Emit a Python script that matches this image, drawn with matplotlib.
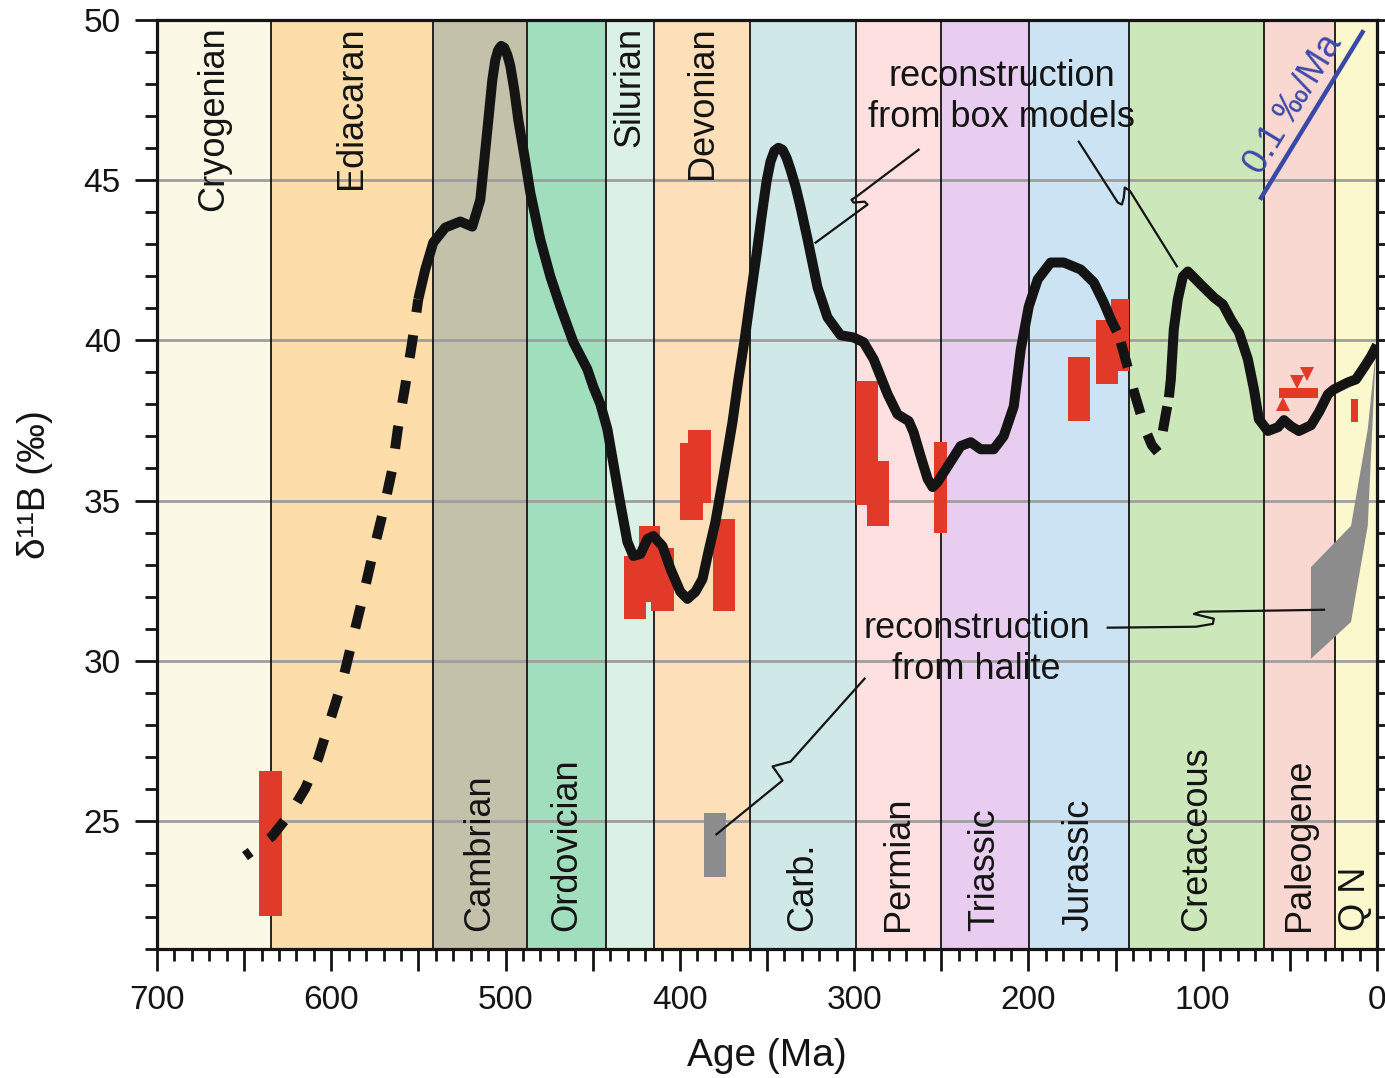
import numpy as np
import matplotlib.pyplot as plt

plt.rcParams['font.family'] = ['Liberation Sans', 'DejaVu Sans']

# geologic periods (Ma)
periods = ['Cryogenian', 'Ediacaran', 'Cambrian', 'Ordovician', 'Silurian', 'Devonian',
           'Carb.', 'Permian', 'Triassic', 'Jurassic', 'Cretaceous', 'Paleogene', 'Q N']
period_old = [720, 634.7, 541.7, 487.7, 442.3, 414.6, 359.9, 299.2, 250.4, 199.6, 142.2, 64.7, 24.1]
period_young = [634.7, 541.7, 487.7, 442.3, 414.6, 359.9, 299.2, 250.4, 199.6, 142.2, 64.7, 24.1, 0]
period_colors = ['#FBF9E6', '#FDDDAA', '#C3C1AA', '#A0DEBE', '#DCF1E6', '#FDE0BA',
                 '#D0E8E8', '#FDE0DF', '#E8CDF0', '#CBE3F2', '#CCE8BA', '#F8D8D0', '#FAF8CC']
label_top = [True, True, False, False, True, True, False, False, False, False, False, False, False]

# box model reconstruction, dashed Ediacaran part
edi_age = [649.5, 634.0, 623.6, 615.0, 607.5, 600.7, 593.2, 587.4, 581.7, 575.9, 570.2,
           565.0, 561.6, 557.6, 553.6, 550.1]
edi_d11b = [23.90, 24.52, 25.23, 26.01, 26.95, 28.13, 29.44, 30.75, 32.03, 33.40, 34.67,
            35.98, 37.32, 38.57, 39.94, 41.28]

# solid part 550 - 149 Ma
main_age = [550.1, 546.1, 541.5, 534.6, 526.0, 519.1, 514.5, 511.6, 509.3, 507.6, 505.9,
            504.2, 502.5, 500.7, 499.0, 497.3, 495.0, 492.7, 489.3, 485.8, 480.1, 474.3,
            468.6, 461.1, 453.1, 449.6, 445.6, 441.6, 438.1, 434.1, 430.1, 426.7, 422.6,
            418.6, 415.2, 410.0, 405.4, 399.7, 395.7, 391.1, 387.0, 383.6, 379.6, 375.0,
            369.8, 366.4, 362.9, 359.5, 356.0, 353.2, 350.3, 348.0, 345.7, 343.4, 341.1,
            338.8, 336.5, 333.6, 330.8, 326.7, 321.0, 315.3, 307.8, 300.3, 294.6, 288.8,
            280.8, 275.1, 268.7, 265.9, 261.9, 257.8, 255.0, 252.1, 246.3, 238.9, 233.1,
            227.4, 219.9, 214.2, 208.4, 204.4, 199.8, 194.7, 187.2, 179.7, 170.0, 162.5,
            156.8, 152.7, 149.3]
main_d11b = [41.28, 42.21, 43.05, 43.52, 43.71, 43.55, 44.39, 45.95, 47.20, 48.13, 48.75,
             49.07, 49.19, 49.13, 48.91, 48.57, 47.82, 46.88, 45.79, 44.61, 43.15, 41.99,
             41.06, 39.94, 39.10, 38.54, 38.01, 37.23, 36.14, 34.89, 33.71, 33.27, 33.33,
             33.80, 33.89, 33.58, 32.87, 32.15, 31.93, 32.15, 32.55, 33.40, 34.33, 35.76,
             37.45, 38.78, 40.00, 41.34, 42.68, 43.83, 44.95, 45.58, 45.92, 46.01, 45.95,
             45.70, 45.33, 44.80, 44.17, 43.15, 41.65, 40.72, 40.16, 40.09, 39.94, 39.41,
             38.32, 37.69, 37.48, 37.13, 36.39, 35.67, 35.42, 35.58, 36.07, 36.70, 36.82,
             36.60, 36.60, 37.01, 37.94, 39.72, 41.06, 41.90, 42.43, 42.43, 42.21, 41.81,
             41.18, 40.65, 40.28]

# dashed Early Cretaceous parts
jur_age = [147.0, 142.4, 139.5, 136.1, 132.6, 129.2, 125.8]
jur_d11b = [39.94, 39.03, 38.41, 37.79, 37.17, 36.73, 36.51]
cre_dash_age = [122.9, 121.2, 119.4]
cre_dash_d11b = [37.17, 37.69, 38.22]

# solid part 119 - 0 Ma
late_age = [119.4, 118.3, 116.6, 114.3, 111.4, 108.5, 101.1, 93.6, 88.4, 83.8, 79.2, 74.1,
            70.6, 67.8, 62.6, 56.8, 53.4, 49.4, 44.8, 37.9, 33.3, 28.1, 24.7, 16.6, 12.1,
            7.4, 3.4, 0.0]
late_d11b = [38.22, 38.78, 40.34, 41.28, 41.99, 42.15, 41.74, 41.34, 41.12, 40.65, 40.25,
             39.41, 38.47, 37.54, 37.17, 37.29, 37.51, 37.32, 37.17, 37.35, 37.76, 38.32,
             38.47, 38.69, 38.78, 39.16, 39.50, 39.85]

# red boxes (age range, d11B range)
red_old = [641.2, 431.8, 423.6, 416.3, 399.7, 395.2, 381.1, 299.0, 292.9, 254.2, 177.3,
           161.4, 152.7, 56.1, 14.9]
red_young = [628.5, 419.4, 411.2, 403.3, 386.5, 382.3, 368.3, 286.4, 279.8, 246.9, 164.4,
             148.6, 142.4, 34.0, 10.7]
red_low = [22.02, 31.29, 31.83, 31.54, 34.40, 34.92, 31.54, 34.86, 34.21, 33.99, 37.49,
           38.63, 39.03, 38.20, 37.44]
red_high = [26.55, 33.28, 34.21, 33.52, 36.78, 37.21, 34.42, 38.73, 36.24, 36.83, 39.49,
            40.63, 41.28, 38.50, 38.18]
tri_up_age, tri_up_d11b = [54.1], [38.00]
tri_dn_age, tri_dn_d11b = [45.9, 40.2], [38.71, 38.96]

# halite reconstructions
halite_box_age = [386.4, 373.8]
halite_box_d11b = [23.26, 25.23]
halite_poly_age = [37.9, 14.9, 5.3, 0.6, 5.3, 14.9, 37.9]
halite_poly_d11b = [32.92, 34.21, 37.23, 39.72, 34.21, 31.21, 30.06]

# 0.1 permil/Ma slope bar
slope_age = [66.5, 8.3]
slope_d11b = [44.45, 49.62]

# leader lines
lead1_age = [263.0, 298.6, 301.5, 300.3, 294.0, 292.3, 322.1]
lead1_d11b = [45.95, 44.49, 44.39, 44.30, 44.33, 44.24, 43.05]
lead2_age = [171.1, 148.7, 146.4, 145.3, 144.7, 141.8, 114.8]
lead2_d11b = [46.20, 44.30, 44.24, 44.45, 44.77, 44.67, 42.31]
lead3_age = [154.5, 103.9, 94.2, 93.6, 105.1, 101.1, 64.9, 30.4]
lead3_d11b = [31.03, 31.06, 31.15, 31.31, 31.46, 31.53, 31.56, 31.59]
lead4_age = [294.0, 336.5, 346.8, 345.1, 341.1, 379.0]
lead4_d11b = [29.44, 26.85, 26.70, 26.57, 26.26, 24.58]

red = '#E13A29'
ink = '#141414'

fig = plt.figure(figsize=(13.85, 10.78), dpi=100)
ax = fig.add_axes([157 / 1385, 1 - 949 / 1078, 1220 / 1385, 929 / 1078])
ax.set_xlim(700, 0)
ax.set_ylim(21, 50)

for i, name in enumerate(periods):
    ax.axvspan(period_young[i], period_old[i], color=period_colors[i], lw=0, zorder=0)
    if period_old[i] < 700:
        ax.axvline(period_old[i], color=ink, lw=1.3, zorder=1.5)
    xc = (min(period_old[i], 700) + period_young[i]) / 2
    if label_top[i]:
        ax.text(xc, 49.8, name, rotation=90, ha='center', va='top', fontsize=26, color=ink, zorder=5)
    else:
        ax.text(xc, 21.55, name, rotation=90, ha='center', va='bottom', fontsize=26, color=ink, zorder=5)

for yv in [25, 30, 35, 40, 45]:
    ax.axhline(yv, color='#9E9E9E', lw=2, zorder=1)

# data boxes
ax.bar(red_young, np.array(red_high) - np.array(red_low), width=np.array(red_old) - np.array(red_young),
       bottom=red_low, align='edge', color=red, lw=0, zorder=2)
ax.plot(tri_up_age, tri_up_d11b, '^', color=red, ms=10, mew=0, zorder=2)
ax.plot(tri_dn_age, tri_dn_d11b, 'v', color=red, ms=10, mew=0, zorder=2)
ax.bar(halite_box_age[1], halite_box_d11b[1] - halite_box_d11b[0],
       width=halite_box_age[0] - halite_box_age[1], bottom=halite_box_d11b[0],
       align='edge', color='#8C8C8C', lw=0, zorder=2)
ax.fill(halite_poly_age, halite_poly_d11b, color='#8C8C8C', lw=0, zorder=2)

# leader lines
for la, ld in [(lead1_age, lead1_d11b), (lead2_age, lead2_d11b),
               (lead3_age, lead3_d11b), (lead4_age, lead4_d11b)]:
    ax.plot(la, ld, color=ink, lw=1.6, solid_joinstyle='round', zorder=3)

# box model curve
lw = 7.2
ax.plot(edi_age, edi_d11b, color=ink, lw=lw, linestyle=(1.6, (2.3, 2.3)),
        dash_capstyle='butt', zorder=4)
ax.plot(main_age, main_d11b, color=ink, lw=lw, solid_joinstyle='round',
        solid_capstyle='butt', zorder=4)
ax.plot(jur_age, jur_d11b, color=ink, lw=lw, linestyle=(0, (2.6, 2.2)),
        dash_capstyle='butt', zorder=4)
ax.plot(cre_dash_age, cre_dash_d11b, color=ink, lw=lw, linestyle=(0, (2.5, 1.2)),
        dash_capstyle='butt', zorder=4)
ax.plot(late_age, late_d11b, color=ink, lw=lw, solid_joinstyle='round',
        solid_capstyle='butt', zorder=4)

# slope bar
ax.plot(slope_age, slope_d11b, color='#3A48A8', lw=3.2, zorder=4)
ax.text(47.7, 47.38, '0.1 ‰/Ma', rotation=58.6, rotation_mode='anchor',
        ha='center', va='center', fontsize=26, color='#3A48A8', zorder=5)

ax.text(215.3, 47.6, 'reconstruction\nfrom box models', ha='center', va='center',
        fontsize=26, color=ink, linespacing=1.2, zorder=5)
ax.text(229.7, 30.37, 'reconstruction\nfrom halite', ha='center', va='center',
        fontsize=26, color=ink, linespacing=1.2, zorder=5)

# axes styling
ax.set_xticks(np.arange(0, 701, 50))
ax.set_xticklabels([str(v) if v % 100 == 0 else '' for v in range(0, 701, 50)])
ax.set_xticks(np.arange(0, 701, 10), minor=True)
ax.set_yticks([25, 30, 35, 40, 45, 50])
ax.set_yticks(np.arange(21, 51, 1), minor=True)
ax.tick_params(axis='both', which='both', direction='out', width=2, colors=ink,
               labelsize=24, pad=10)
ax.tick_params(axis='both', which='major', length=16)
ax.tick_params(axis='both', which='minor', length=8.5)
ax.tick_params(axis='y', which='both', right=True)
for s in ax.spines.values():
    s.set_linewidth(2.3)
    s.set_color(ink)
    s.set_zorder(6)

ax.set_xlabel('Age (Ma)', fontsize=28, labelpad=16, color=ink)
ax.set_ylabel('δ¹¹B (‰)', fontsize=28, labelpad=22, color=ink)

fig.savefig('out.png', dpi=100)
